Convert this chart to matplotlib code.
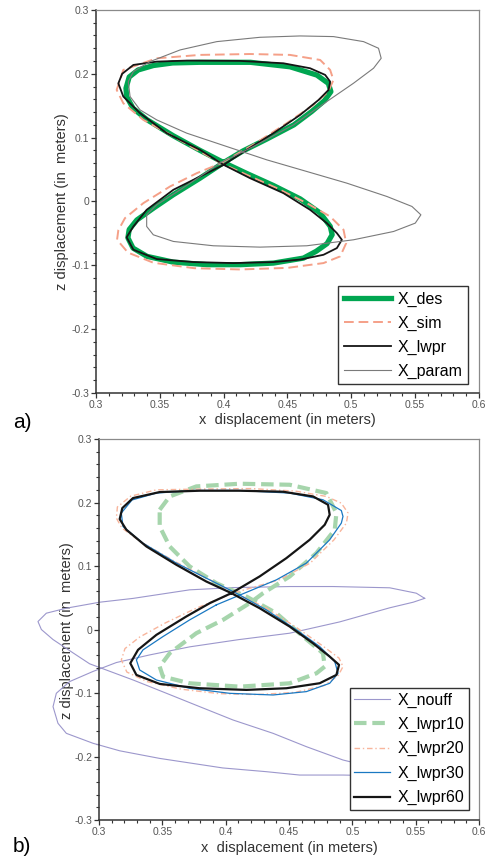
import numpy as np
import matplotlib
matplotlib.use("Agg")
import matplotlib.pyplot as plt
from matplotlib.ticker import MultipleLocator, FuncFormatter

plt.rcParams['font.family'] = ['Liberation Sans', 'DejaVu Sans']

# ---- panel a) trajectories (x, z) ----
des_xz = [(0.400, 0.061), (0.415, 0.079), (0.434, 0.098), (0.455, 0.120), (0.469, 0.141),
          (0.479, 0.158), (0.484, 0.172), (0.482, 0.185), (0.473, 0.198), (0.452, 0.211),
          (0.421, 0.218), (0.381, 0.218), (0.360, 0.217), (0.345, 0.213), (0.333, 0.206),
          (0.326, 0.195), (0.3235, 0.1774), (0.324, 0.1644), (0.329, 0.146), (0.340, 0.128),
          (0.3605, 0.103), (0.3815, 0.080), (0.400, 0.061), (0.418, 0.044), (0.439, 0.025),
          (0.460, 0.004), (0.4756, -0.018), (0.4835, -0.039), (0.485, -0.052), (0.481, -0.066),
          (0.4725, -0.078), (0.4625, -0.0887), (0.439, -0.0965), (0.413, -0.099), (0.387, -0.099),
          (0.3605, -0.095), (0.340, -0.086), (0.329, -0.073), (0.325, -0.057), (0.326, -0.044),
          (0.332, -0.029), (0.345, -0.0105), (0.3605, 0.0105), (0.3815, 0.0365), (0.400, 0.061)]

sim_xz = [(0.398, 0.060), (0.4233, 0.0890), (0.4494, 0.1226), (0.4703, 0.1513), (0.482, 0.1722),
          (0.486, 0.1904), (0.4834, 0.2061), (0.4756, 0.2217), (0.452, 0.2296), (0.4207, 0.2310),
          (0.3815, 0.2296), (0.3476, 0.2243), (0.3214, 0.2061), (0.3162, 0.1748), (0.3214, 0.1539),
          (0.3371, 0.1278), (0.3606, 0.1018), (0.3815, 0.0783), (0.398, 0.060), (0.4181, 0.0417),
          (0.4416, 0.0209), (0.4651, -0.0026), (0.4834, -0.0235), (0.4939, -0.0443), (0.4960, -0.0652),
          (0.4913, -0.086), (0.4782, -0.0965), (0.450, -0.1040), (0.4129, -0.1065), (0.3770, -0.1045),
          (0.3450, -0.0960), (0.3250, -0.0800), (0.3165, -0.0600), (0.3175, -0.0450), (0.3227, -0.0261),
          (0.3371, -0.0026), (0.358, 0.0235), (0.3789, 0.0443), (0.398, 0.060)]

lwpr_xz = [(0.400, 0.0574), (0.4181, 0.0809), (0.439, 0.107), (0.460, 0.1357), (0.4744, 0.1591),
           (0.4822, 0.1748), (0.4834, 0.1878), (0.4795, 0.1983), (0.4677, 0.2087), (0.4468, 0.2165),
           (0.4129, 0.2202), (0.3711, 0.2207), (0.3476, 0.2191), (0.3293, 0.2139), (0.3205, 0.2000),
           (0.3175, 0.1850), (0.3214, 0.1644), (0.3345, 0.1383), (0.3554, 0.107), (0.3815, 0.0809),
           (0.400, 0.0574), (0.4207, 0.0365), (0.4468, 0.0131), (0.4677, -0.013), (0.4808, -0.0339),
           (0.4887, -0.0496), (0.4926, -0.0600), (0.4887, -0.073), (0.4782, -0.0835), (0.4600, -0.0910),
           (0.439, -0.0949), (0.4077, -0.0965), (0.3763, -0.0949), (0.3476, -0.0902), (0.3293, -0.0756),
           (0.3240, -0.0560), (0.3293, -0.0391), (0.3397, -0.013), (0.3606, 0.0183), (0.3815, 0.0391),
           (0.400, 0.0574)]

param_xz = [(0.397, 0.060), (0.4233, 0.0861), (0.4547, 0.120), (0.4808, 0.1565), (0.5017, 0.1852),
            (0.5174, 0.2087), (0.5234, 0.2243), (0.5213, 0.240), (0.5096, 0.2504), (0.486, 0.2583),
            (0.4599, 0.2593), (0.4285, 0.2572), (0.3946, 0.2504), (0.3659, 0.2374), (0.3423, 0.2191),
            (0.3293, 0.2035), (0.3253, 0.1878), (0.3267, 0.1644), (0.3345, 0.1435), (0.3476, 0.1278),
            (0.3711, 0.107), (0.4024, 0.0861), (0.4338, 0.0652), (0.4651, 0.047), (0.4965, 0.0287),
            (0.5279, 0.0078), (0.5475, -0.0078), (0.5545, -0.0209), (0.5501, -0.0339), (0.5331, -0.047),
            (0.5017, -0.060), (0.4651, -0.0694), (0.4285, -0.0715), (0.392, -0.0694), (0.3606, -0.0626),
            (0.3449, -0.0522), (0.3397, -0.0391), (0.3397, -0.0209), (0.3476, -0.0052), (0.3659, 0.0183),
            (0.3815, 0.0391), (0.397, 0.060)]

# ---- panel b) trajectories ----
nouff_xz = [(0.5571, 0.0491), (0.5505, 0.0572), (0.5295, 0.0657), (0.4847, 0.0677), (0.4505, 0.0677),
            (0.4058, 0.0660), (0.3716, 0.0625), (0.3268, 0.0490), (0.3005, 0.0430), (0.2742, 0.0336),
            (0.2584, 0.0257), (0.2518, 0.0126), (0.2545, 0.0), (0.2637, -0.0158), (0.2795, -0.0368),
            (0.2926, -0.0540), (0.3268, -0.0794), (0.3532, -0.1004), (0.3795, -0.1215), (0.4058, -0.1425),
            (0.4374, -0.1635), (0.4637, -0.1845), (0.4926, -0.2055), (0.510, -0.2140), (0.520, -0.2220),
            (0.515, -0.2280), (0.500, -0.2295), (0.4926, -0.2292), (0.4584, -0.2292), (0.4321, -0.2239),
            (0.3976, -0.2180), (0.3479, -0.2030), (0.3163, -0.1910), (0.2953, -0.1792), (0.2742, -0.1635),
            (0.2676, -0.1477), (0.2637, -0.1215), (0.2663, -0.1004), (0.2768, -0.0820), (0.2953, -0.0660),
            (0.3137, -0.0520), (0.3400, -0.0400), (0.3716, -0.0273), (0.4100, -0.0160), (0.4505, -0.0058),
            (0.4900, 0.0120), (0.5295, 0.0342), (0.5480, 0.0430), (0.5571, 0.0491)]

lwpr10_xz = [(0.3479, 0.1886), (0.3558, 0.2096), (0.3768, 0.2254), (0.4111, 0.2296), (0.4505, 0.228),
             (0.4795, 0.2149), (0.4874, 0.1834), (0.4861, 0.1571), (0.4716, 0.1203), (0.4505, 0.0835),
             (0.4295, 0.0572), (0.4189, 0.0415), (0.3979, 0.0152), (0.3768, -0.0058), (0.3558, -0.0373),
             (0.3479, -0.0584), (0.3505, -0.0742), (0.3716, -0.0847), (0.4111, -0.090), (0.4505, -0.0847),
             (0.4716, -0.069), (0.4782, -0.0584), (0.4768, -0.0373), (0.4611, -0.011), (0.440, 0.0257),
             (0.4163, 0.052), (0.3926, 0.073), (0.3716, 0.0993), (0.3558, 0.1308), (0.3479, 0.1623),
             (0.3479, 0.1886)]

lwpr20_xz = [(0.407, 0.058), (0.4421, 0.0782), (0.4667, 0.1046), (0.4855, 0.1413), (0.4953, 0.1676),
             (0.4966, 0.1834), (0.4913, 0.199), (0.4795, 0.2096), (0.455, 0.218), (0.420, 0.222),
             (0.3795, 0.2212), (0.3453, 0.220), (0.325, 0.210), (0.3145, 0.193), (0.3137, 0.1755),
             (0.318, 0.160), (0.333, 0.138), (0.360, 0.107), (0.386, 0.080), (0.407, 0.058),
             (0.432, 0.034), (0.456, 0.003), (0.476, -0.025), (0.4895, -0.045), (0.4926, -0.0584),
             (0.489, -0.072), (0.478, -0.088), (0.455, -0.099), (0.425, -0.1025), (0.395, -0.101),
             (0.365, -0.094), (0.338, -0.082), (0.322, -0.067), (0.3176, -0.048), (0.3205, -0.030),
             (0.332, -0.012), (0.352, 0.010), (0.375, 0.032), (0.393, 0.047), (0.407, 0.058)]

lwpr30_xz = [(0.3926, 0.0388), (0.4163, 0.0585), (0.440, 0.0782), (0.4637, 0.1046), (0.4821, 0.1413),
             (0.4913, 0.1676), (0.4926, 0.1781), (0.4913, 0.1874), (0.4768, 0.2044), (0.4505, 0.2149),
             (0.410, 0.219), (0.375, 0.219), (0.3453, 0.2149), (0.326, 0.204), (0.3176, 0.1834),
             (0.3189, 0.1623), (0.3347, 0.136), (0.3611, 0.1046), (0.3874, 0.0782), (0.4084, 0.0572),
             (0.4321, 0.0309), (0.4558, -0.0005), (0.4742, -0.0268), (0.4861, -0.0505), (0.4887, -0.069),
             (0.4821, -0.0847), (0.4637, -0.0978), (0.4374, -0.1031), (0.4032, -0.1005), (0.3716, -0.0926),
             (0.3453, -0.0795), (0.3321, -0.0637), (0.3295, -0.0479), (0.3347, -0.0321), (0.3505, -0.0111),
             (0.3716, 0.0152), (0.3926, 0.0388)]

lwpr60_xz = [(0.4045, 0.0573), (0.4268, 0.0836), (0.4479, 0.1124), (0.4663, 0.1413), (0.4782, 0.165),
             (0.4821, 0.1807), (0.4808, 0.1965), (0.469, 0.2096), (0.4453, 0.217), (0.4111, 0.2186),
             (0.3795, 0.2186), (0.3479, 0.2165), (0.3268, 0.207), (0.3184, 0.1912), (0.3163, 0.1739),
             (0.3216, 0.1571), (0.3374, 0.1308), (0.3611, 0.1019), (0.3847, 0.0756), (0.4045, 0.0573),
             (0.4268, 0.0336), (0.4505, 0.0047), (0.4689, -0.0216), (0.4821, -0.0426), (0.4895, -0.0557),
             (0.4874, -0.0715), (0.4742, -0.0846), (0.4479, -0.0925), (0.4163, -0.0951), (0.3795, -0.0925),
             (0.3479, -0.0857), (0.3295, -0.0715), (0.3247, -0.0531), (0.3308, -0.032), (0.3453, -0.0084),
             (0.3689, 0.0205), (0.3874, 0.0415), (0.4045, 0.0573)]

x_label = "x  displacement (in meters)"
z_label = "z displacement (in  meters)"


def xy(pairs):
    a = np.array(pairs)
    return a[:, 0], a[:, 1]


def style_axes(ax):
    ax.set_xlim(0.3, 0.6)
    ax.set_ylim(-0.3, 0.3)
    ax.xaxis.set_major_locator(MultipleLocator(0.05))
    ax.xaxis.set_minor_locator(MultipleLocator(0.01))
    ax.yaxis.set_major_locator(MultipleLocator(0.1))
    ax.yaxis.set_minor_locator(MultipleLocator(0.02))
    fmt = FuncFormatter(lambda v, p: '%g' % round(v, 3))
    ax.xaxis.set_major_formatter(fmt)
    ax.yaxis.set_major_formatter(fmt)
    ax.tick_params(which='both', direction='out', colors='#333333', labelcolor='#555555',
                   labelsize=7.5, top=False, right=False)
    ax.tick_params(which='major', length=3.5, width=0.9, pad=1.5)
    ax.tick_params(which='minor', length=2, width=0.8)
    for s in ('left', 'bottom'):
        ax.spines[s].set_color('#333333')
        ax.spines[s].set_linewidth(1.1)
    for s in ('top', 'right'):
        ax.spines[s].set_color('#8a8a8a')
        ax.spines[s].set_linewidth(0.9)
    ax.set_xlabel(x_label, fontsize=10.5, color='#333333')
    ax.set_ylabel(z_label, fontsize=10.5, color='#333333')


fig = plt.figure(figsize=(4.88, 8.59), dpi=100)
ax1 = fig.add_axes([0.1967, 0.5425, 0.7848, 0.4459])
ax2 = fig.add_axes([0.2029, 0.0454, 0.7787, 0.4435])

# panel a
ax1.plot(*xy(des_xz), color='#00a651', lw=3.8, solid_joinstyle='round', label='X_des')
ax1.plot(*xy(sim_xz), color='#f5a088', lw=1.4, dashes=(5, 2.5), label='X_sim')
ax1.plot(*xy(lwpr_xz), color='#151515', lw=1.3, solid_joinstyle='round', label='X_lwpr')
ax1.plot(*xy(param_xz), color='#7a7a7a', lw=0.8, label='X_param')
style_axes(ax1)
ax1.xaxis.set_label_coords(0.4987, -0.0705)
ax1.yaxis.set_label_coords(-0.089, 0.499)
leg1 = ax1.legend(loc='lower right', bbox_to_anchor=(0.971, 0.0235), borderaxespad=0,
                  fancybox=False, edgecolor='#333333', framealpha=1, fontsize=11.5,
                  handlelength=3.0, handletextpad=0.4, labelspacing=0.56, borderpad=0.32)
leg1.get_frame().set_linewidth(1.0)

# panel b
ax2.plot(*xy(nouff_xz), color='#9c97cc', lw=0.8, clip_on=False, label='X_nouff')
ax2.plot(*xy(lwpr10_xz), color='#a6d5ac', lw=3.0, dashes=(3, 1.4), label='X_lwpr10')
ax2.plot(*xy(lwpr20_xz), color='#f8b59c', lw=1.0, dashes=(4, 2, 1, 2), label='X_lwpr20')
ax2.plot(*xy(lwpr30_xz), color='#1a78c2', lw=0.9, label='X_lwpr30')
ax2.plot(*xy(lwpr60_xz), color='#151515', lw=1.6, solid_joinstyle='round', label='X_lwpr60')
style_axes(ax2)
ax2.xaxis.set_label_coords(0.5, -0.0727)
ax2.yaxis.set_label_coords(-0.084, 0.496)
leg2 = ax2.legend(loc='lower right', bbox_to_anchor=(0.974, 0.026), borderaxespad=0,
                  fancybox=False, edgecolor='#333333', framealpha=1, fontsize=11.5,
                  handlelength=2.2, handletextpad=0.5, labelspacing=0.58, borderpad=0.3)
leg2.get_frame().set_linewidth(1.0)

for ax in (ax1, ax2):
    ax.xaxis.label.set_va('center')
    ax.yaxis.label.set_va('center')

fig.text(13 / 488, 1 - 422 / 859, 'a)', fontsize=15, va='center', ha='left')
fig.text(13 / 488, 1 - 847 / 859, 'b)', fontsize=15, va='center', ha='left')

fig.savefig('out.png', dpi=100)
